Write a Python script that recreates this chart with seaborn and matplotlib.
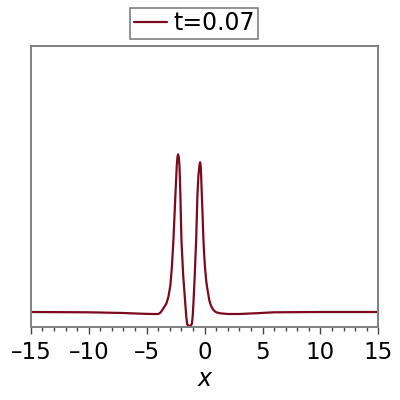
import numpy as np
import pandas as pd
import seaborn as sns
import matplotlib.pyplot as plt

# pontos (altura acima da linha de base, escala arbitraria)
x_vals = [-15, -10, -7, -5.5, -4.5, -4.0, -3.8, -3.55, -3.3, -3.12, -2.95, -2.83,
          -2.69, -2.52, -2.40, -2.34, -2.29, -2.23, -2.17, -2.09, -2.0, -1.85,
          -1.68, -1.58, -1.5, -1.4, -1.3, -1.2, -1.1, -1.02, -0.95, -0.85, -0.73,
          -0.62, -0.53, -0.44, -0.39, -0.34, -0.30, -0.24, -0.17, -0.10, -0.03,
          0.04, 0.10, 0.15, 0.24, 0.33, 0.4, 0.5, 0.6, 0.76, 1.0, 1.34,
          2.0, 3.0, 4.5, 6, 10, 15]
y_vals = [0.0, -0.003, -0.01, -0.017, -0.02, -0.02, -0.005, 0.037, 0.085, 0.153,
          0.27, 0.44, 0.72, 1.17, 1.47, 1.55, 1.577, 1.55, 1.47, 1.17, 0.72, 0.37,
          0.103, -0.05, -0.125, -0.135, -0.14, -0.135, -0.12, -0.03, 0.12, 0.37,
          0.72, 1.17, 1.37, 1.47, 1.497, 1.46, 1.37, 1.17, 0.95, 0.72, 0.56,
          0.437, 0.36, 0.30, 0.23, 0.17, 0.12, 0.08, 0.05, 0.02, -0.003, -0.013,
          -0.02, -0.02, -0.012, -0.003, 0.0, 0.0]
legend_label = 't=0.07'
xtick_vals = [-15, -10, -5, 0, 5, 10, 15]
xtick_labels = ['\u201315', '\u201310', '\u20135', '0', '5', '10', '15']

df = pd.DataFrame({'x': x_vals, 'y': y_vals})

sns.set_style('white')
plt.rcParams['font.family'] = ['DejaVu Sans']
plt.rcParams['text.color'] = 'black'
plt.rcParams['xtick.color'] = 'black'
plt.rcParams['axes.labelcolor'] = 'black'

fig = plt.figure(figsize=(4, 4), dpi=100)
ax = fig.add_axes([0.077, 0.1825, 0.869, 0.7025])

sns.lineplot(data=df, x='x', y='y', color='#7c0a1e', linewidth=1.6,
             label=legend_label, ax=ax, sort=False)

ax.set_xlim(-15, 15)
ax.set_ylim(-0.15, 2.66)
ax.set_yticks([])
ax.set_xticks(xtick_vals, xtick_labels)
ax.set_xticks(np.arange(-15, 16, 1), minor=True)
ax.tick_params(axis='x', which='both', bottom=True, top=False)
ax.tick_params(axis='x', which='major', direction='out', length=5, width=1,
               color='#444444', labelsize=16.5, labelcolor='black', pad=5)
ax.tick_params(axis='x', which='minor', direction='out', length=3, width=1,
               color='#444444')
ax.set_xlabel('x', fontsize=17, style='italic', labelpad=2, color='black')
ax.set_ylabel('')

for s in ax.spines.values():
    s.set_color('#808080')
    s.set_linewidth(1.4)

ax.legend(loc='lower center', bbox_to_anchor=(0.4855, 0.9025),
          bbox_transform=fig.transFigure, fontsize=17, frameon=True,
          fancybox=False, edgecolor='#808080', framealpha=1,
          handlelength=1.4, handletextpad=0.25, borderpad=0.15,
          borderaxespad=0)
ax.get_legend().get_frame().set_linewidth(1.2)

plt.savefig('out.png', dpi=100)
